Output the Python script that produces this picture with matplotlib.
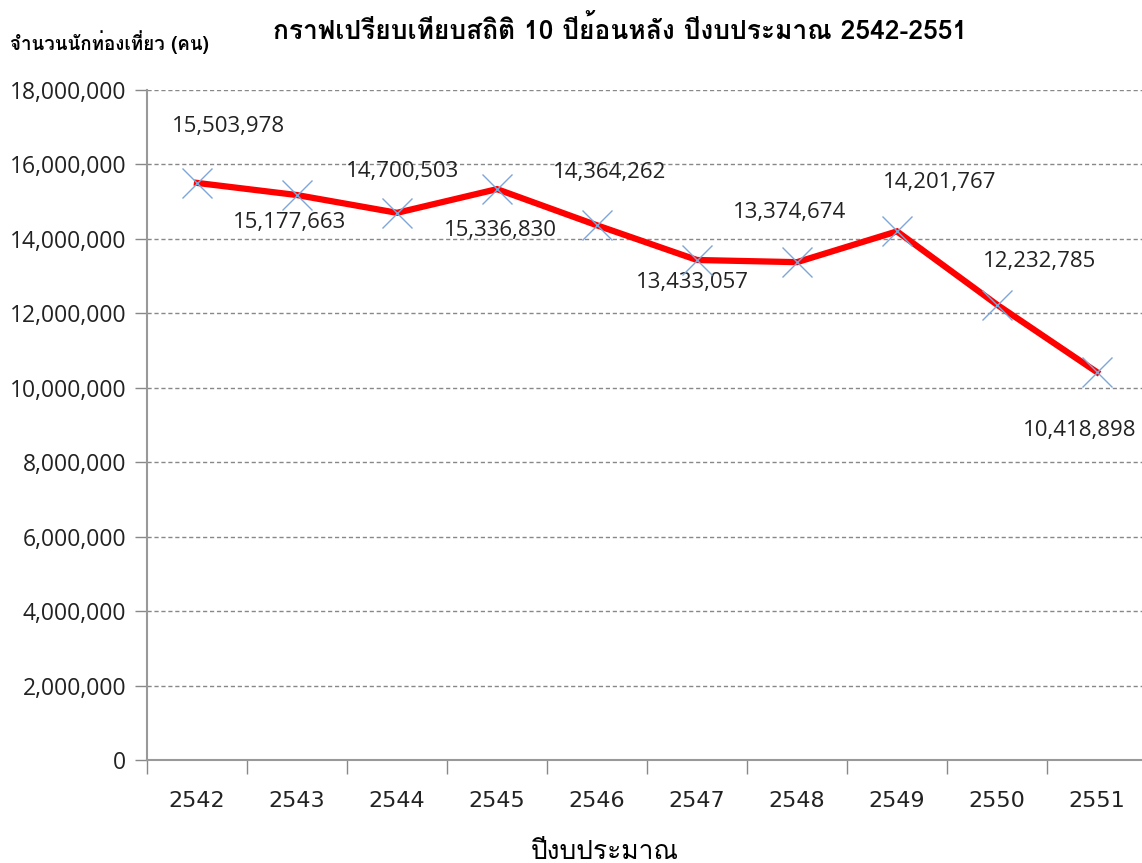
import matplotlib
matplotlib.use("Agg")
import matplotlib.pyplot as plt
from matplotlib import font_manager
from matplotlib.ft2font import FT2Font
from matplotlib.ticker import FuncFormatter

# Data: tourists per fiscal year (Thai Buddhist years)
years = ['2542', '2543', '2544', '2545', '2546', '2547', '2548', '2549', '2550', '2551']
tourists = [15503978, 15177663, 14700503, 15336830, 14364262,
            13433057, 13374674, 14201767, 12232785, 10418898]

title_text = 'กราฟเปรียบเทียบสถิติ 10 ปีย้อนหลัง ปีงบประมาณ 2542-2551'
ylabel_text = 'จำนวนนักท่องเที่ยว (คน)'
xlabel_text = 'ปีงบประมาณ'

# label offsets in pixels (dx, dy) from each point
label_offsets = [(31, 56), (-7, -27), (6, 41), (3, -41), (13, 53),
                 (-5, -23), (-7, 50), (43, 49), (43, 43), (-17, -58)]


# find an installed font that has Thai glyphs
def find_thai_font():
    names = []
    for f in font_manager.fontManager.ttflist:
        try:
            ft = FT2Font(f.fname)
            if ft.get_char_index(ord('ก')) != 0:
                names.append(f.name)
        except Exception:
            pass
    return names


thai_fonts = find_thai_font()
thai_family = (thai_fonts[:1] if thai_fonts else []) + ['DejaVu Sans']

installed = {f.name for f in font_manager.fontManager.ttflist}
narrow = 'Liberation Sans Narrow' if 'Liberation Sans Narrow' in installed else 'DejaVu Sans Condensed'

num_family = ['Open Sans', 'DejaVu Sans']
plt.rcParams['font.family'] = num_family

fig = plt.figure(figsize=(11.42, 8.63), dpi=100)
ax = fig.add_axes([147 / 1142, 1 - 760 / 863, 1000 / 1142, 670 / 863])

x = list(range(len(years)))
ax.plot(x, tourists, color='#ff0000', linewidth=4.5, zorder=3,
        solid_joinstyle='miter')
ax.plot(x, tourists, linestyle='none', marker='x', markersize=21,
        markeredgewidth=1.0, color='#7ea6d8', zorder=4)

for xi, v, (dx, dy) in zip(x, tourists, label_offsets):
    ax.annotate(f'{v:,}', (xi, v), xytext=(dx, dy), textcoords='offset pixels',
                ha='center', va='center', fontsize=16, color='#222222')

ax.set_xlim(-0.5, 9.5)
ax.set_ylim(0, 18000000)
ax.set_yticks(range(0, 18000001, 2000000))
ax.yaxis.set_major_formatter(FuncFormatter(lambda v, p: f'{int(v):,}'))
ax.set_xticks(x)
ax.set_xticklabels(years, family=narrow, fontsize=16)
ax.set_xticks([i - 0.5 for i in range(len(years) + 1)], minor=True)
ax.tick_params(axis='x', which='major', length=0, pad=22, labelcolor='#222222')
ax.tick_params(axis='x', which='minor', length=10, color='#888888', width=1)
ax.tick_params(axis='y', length=9, color='#888888', width=1, labelsize=16.5,
               pad=6, labelcolor='#222222')

ax.grid(axis='y', linestyle=(0, (3, 2)), color='#888888', linewidth=1)
ax.set_axisbelow(True)
for side in ['top', 'right']:
    ax.spines[side].set_visible(False)
ax.spines['left'].set_color('#999999')
ax.spines['bottom'].set_color('#999999')
ax.spines['left'].set_linewidth(1.5)
ax.spines['bottom'].set_linewidth(1.5)

fig.text(620 / 1142, 1 - 30 / 863, title_text, ha='center', va='center',
         fontsize=19, fontweight='bold', family=thai_family)
fig.text(10 / 1142, 1 - 42 / 863, ylabel_text, ha='left', va='center',
         fontsize=13.5, fontweight='bold', family=thai_family)
fig.text(605 / 1142, 1 - 852 / 863, xlabel_text, ha='center', va='center',
         fontsize=19, family=thai_family)

fig.savefig('out.png', dpi=100)
